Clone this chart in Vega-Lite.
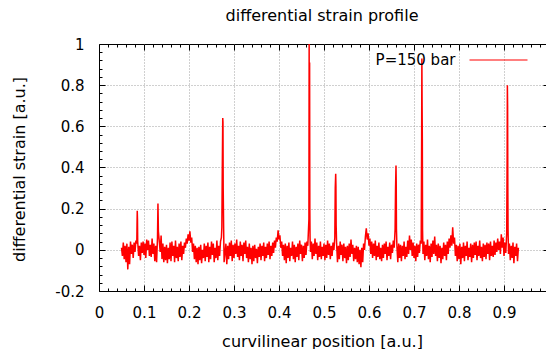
{
 "$schema": "https://vega.github.io/schema/vega-lite/v6.json",
 "autosize": {"type": "none"},
 "padding": {"left": 99, "top": 44, "right": 0, "bottom": 58},
 "width": 450,
 "height": 247,
 "background": "white",
 "title": {"text": "differential strain profile", "font": "DejaVu Sans", "fontSize": 16, "fontWeight": "normal", "color": "#000", "anchor": "middle", "dx": -2, "baseline": "alphabetic", "offset": -7},
 "config": {"view": {"stroke": "black", "strokeWidth": 1}},
 "datasets": {
  "none": [],
  "trace": [
{"x":0.050,"y":0.010},{"x":0.052,"y":-0.030},{"x":0.054,"y":0.035},{"x":0.056,"y":-0.045},{"x":0.058,"y":0.020},{"x":0.060,"y":-0.060},{"x":0.062,"y":0.030},{"x":0.064,"y":-0.095},{"x":0.066,"y":0.015},{"x":0.068,"y":-0.070},{"x":0.070,"y":0.040},{"x":0.072,"y":-0.020},{"x":0.074,"y":0.025},{"x":0.076,"y":-0.040},{"x":0.078,"y":0.035},{"x":0.080,"y":-0.010},{"x":0.082,"y":0.045},{"x":0.084,"y":0.030},{"x":0.0845,"y":0.120},{"x":0.085,"y":0.190},{"x":0.0855,"y":0.150},{"x":0.086,"y":0.040},{"x":0.088,"y":-0.030},{"x":0.090,"y":0.020},{"x":0.092,"y":-0.050},{"x":0.094,"y":0.035},{"x":0.096,"y":-0.015},{"x":0.098,"y":0.040},{"x":0.100,"y":-0.025},{"x":0.102,"y":0.030},{"x":0.104,"y":-0.040},{"x":0.106,"y":0.050},{"x":0.108,"y":0.000},{"x":0.110,"y":0.045},{"x":0.112,"y":-0.030},{"x":0.114,"y":0.025},{"x":0.116,"y":-0.035},{"x":0.118,"y":0.055},{"x":0.120,"y":-0.020},{"x":0.122,"y":0.030},{"x":0.124,"y":-0.055},{"x":0.126,"y":0.020},{"x":0.128,"y":-0.060},{"x":0.130,"y":0.060},{"x":0.131,"y":0.225},{"x":0.1315,"y":0.160},{"x":0.132,"y":0.090},{"x":0.134,"y":0.040},{"x":0.136,"y":-0.010},{"x":0.138,"y":0.070},{"x":0.140,"y":-0.045},{"x":0.142,"y":0.030},{"x":0.144,"y":-0.060},{"x":0.146,"y":0.015},{"x":0.148,"y":-0.050},{"x":0.150,"y":0.025},{"x":0.152,"y":-0.065},{"x":0.154,"y":0.010},{"x":0.156,"y":-0.045},{"x":0.158,"y":0.035},{"x":0.160,"y":-0.055},{"x":0.162,"y":0.040},{"x":0.164,"y":-0.030},{"x":0.166,"y":0.020},{"x":0.168,"y":-0.060},{"x":0.170,"y":0.045},{"x":0.172,"y":-0.040},{"x":0.174,"y":0.015},{"x":0.176,"y":-0.055},{"x":0.178,"y":0.030},{"x":0.180,"y":-0.035},{"x":0.182,"y":0.040},{"x":0.184,"y":-0.050},{"x":0.186,"y":0.020},{"x":0.188,"y":-0.020},{"x":0.190,"y":0.035},{"x":0.192,"y":0.010},{"x":0.194,"y":0.055},{"x":0.196,"y":0.030},{"x":0.198,"y":0.075},{"x":0.200,"y":0.045},{"x":0.202,"y":0.090},{"x":0.204,"y":0.035},{"x":0.206,"y":0.060},{"x":0.208,"y":-0.010},{"x":0.210,"y":0.030},{"x":0.212,"y":-0.045},{"x":0.214,"y":0.020},{"x":0.216,"y":-0.060},{"x":0.218,"y":0.010},{"x":0.220,"y":-0.070},{"x":0.222,"y":0.015},{"x":0.224,"y":-0.050},{"x":0.226,"y":0.025},{"x":0.228,"y":-0.065},{"x":0.230,"y":0.000},{"x":0.232,"y":-0.040},{"x":0.234,"y":0.030},{"x":0.236,"y":-0.055},{"x":0.238,"y":0.020},{"x":0.240,"y":-0.035},{"x":0.242,"y":0.035},{"x":0.244,"y":-0.060},{"x":0.246,"y":0.015},{"x":0.248,"y":-0.045},{"x":0.250,"y":0.040},{"x":0.252,"y":-0.025},{"x":0.254,"y":0.030},{"x":0.256,"y":-0.060},{"x":0.258,"y":0.010},{"x":0.260,"y":-0.040},{"x":0.262,"y":0.045},{"x":0.264,"y":-0.050},{"x":0.266,"y":0.020},{"x":0.268,"y":-0.030},{"x":0.270,"y":0.040},{"x":0.272,"y":0.060},{"x":0.273,"y":0.110},{"x":0.274,"y":0.400},{"x":0.275,"y":0.640},{"x":0.2755,"y":0.620},{"x":0.276,"y":0.300},{"x":0.277,"y":0.100},{"x":0.278,"y":-0.060},{"x":0.280,"y":-0.020},{"x":0.282,"y":0.030},{"x":0.284,"y":-0.070},{"x":0.286,"y":0.020},{"x":0.288,"y":-0.045},{"x":0.290,"y":0.035},{"x":0.292,"y":-0.030},{"x":0.294,"y":0.045},{"x":0.296,"y":-0.055},{"x":0.298,"y":0.025},{"x":0.300,"y":-0.040},{"x":0.302,"y":0.030},{"x":0.304,"y":-0.020},{"x":0.306,"y":0.050},{"x":0.308,"y":-0.035},{"x":0.310,"y":0.020},{"x":0.312,"y":-0.050},{"x":0.314,"y":0.040},{"x":0.316,"y":-0.030},{"x":0.318,"y":0.025},{"x":0.320,"y":-0.055},{"x":0.322,"y":0.035},{"x":0.324,"y":-0.020},{"x":0.326,"y":0.045},{"x":0.328,"y":-0.040},{"x":0.330,"y":0.015},{"x":0.332,"y":-0.060},{"x":0.334,"y":0.030},{"x":0.336,"y":-0.045},{"x":0.338,"y":0.010},{"x":0.340,"y":-0.070},{"x":0.342,"y":0.020},{"x":0.344,"y":-0.055},{"x":0.346,"y":0.025},{"x":0.348,"y":-0.040},{"x":0.350,"y":0.005},{"x":0.352,"y":-0.065},{"x":0.354,"y":0.015},{"x":0.356,"y":-0.035},{"x":0.358,"y":0.030},{"x":0.360,"y":-0.050},{"x":0.362,"y":0.020},{"x":0.364,"y":-0.030},{"x":0.366,"y":0.035},{"x":0.368,"y":-0.055},{"x":0.370,"y":0.015},{"x":0.372,"y":-0.040},{"x":0.374,"y":0.030},{"x":0.376,"y":-0.025},{"x":0.378,"y":0.040},{"x":0.380,"y":-0.045},{"x":0.382,"y":0.020},{"x":0.384,"y":-0.030},{"x":0.386,"y":0.035},{"x":0.388,"y":-0.015},{"x":0.390,"y":0.045},{"x":0.392,"y":0.010},{"x":0.394,"y":0.060},{"x":0.396,"y":0.040},{"x":0.398,"y":0.095},{"x":0.400,"y":0.050},{"x":0.402,"y":0.070},{"x":0.404,"y":0.010},{"x":0.406,"y":0.040},{"x":0.408,"y":-0.030},{"x":0.410,"y":0.025},{"x":0.412,"y":-0.050},{"x":0.414,"y":0.030},{"x":0.416,"y":-0.065},{"x":0.418,"y":0.020},{"x":0.420,"y":-0.040},{"x":0.422,"y":0.035},{"x":0.424,"y":-0.055},{"x":0.426,"y":0.010},{"x":0.428,"y":-0.030},{"x":0.430,"y":0.040},{"x":0.432,"y":-0.045},{"x":0.434,"y":0.025},{"x":0.436,"y":-0.060},{"x":0.438,"y":0.015},{"x":0.440,"y":-0.035},{"x":0.442,"y":0.030},{"x":0.444,"y":-0.050},{"x":0.446,"y":0.045},{"x":0.448,"y":-0.020},{"x":0.450,"y":0.025},{"x":0.452,"y":-0.055},{"x":0.454,"y":0.020},{"x":0.456,"y":-0.040},{"x":0.458,"y":0.035},{"x":0.460,"y":-0.025},{"x":0.462,"y":0.040},{"x":0.464,"y":0.020},{"x":0.4665,"y":0.150},{"x":0.467,"y":1.000},{"x":0.4675,"y":0.300},{"x":0.468,"y":0.910},{"x":0.4685,"y":0.200},{"x":0.469,"y":0.060},{"x":0.470,"y":-0.010},{"x":0.472,"y":0.040},{"x":0.474,"y":-0.045},{"x":0.476,"y":0.030},{"x":0.478,"y":-0.030},{"x":0.480,"y":0.055},{"x":0.482,"y":-0.020},{"x":0.484,"y":0.035},{"x":0.486,"y":-0.050},{"x":0.488,"y":0.020},{"x":0.490,"y":-0.035},{"x":0.492,"y":0.040},{"x":0.494,"y":-0.045},{"x":0.496,"y":0.015},{"x":0.498,"y":-0.030},{"x":0.500,"y":0.030},{"x":0.502,"y":-0.050},{"x":0.504,"y":0.025},{"x":0.506,"y":-0.040},{"x":0.508,"y":0.045},{"x":0.510,"y":-0.025},{"x":0.512,"y":0.030},{"x":0.514,"y":-0.045},{"x":0.516,"y":0.020},{"x":0.518,"y":-0.030},{"x":0.520,"y":0.035},{"x":0.522,"y":0.000},{"x":0.524,"y":0.060},{"x":0.525,"y":0.300},{"x":0.526,"y":0.370},{"x":0.5265,"y":0.310},{"x":0.527,"y":0.120},{"x":0.528,"y":0.030},{"x":0.530,"y":-0.060},{"x":0.532,"y":0.020},{"x":0.534,"y":-0.045},{"x":0.536,"y":0.040},{"x":0.538,"y":-0.025},{"x":0.540,"y":0.025},{"x":0.542,"y":-0.055},{"x":0.544,"y":0.030},{"x":0.546,"y":-0.040},{"x":0.548,"y":0.015},{"x":0.550,"y":-0.065},{"x":0.552,"y":0.020},{"x":0.554,"y":-0.050},{"x":0.556,"y":0.030},{"x":0.558,"y":-0.035},{"x":0.560,"y":0.050},{"x":0.562,"y":-0.020},{"x":0.564,"y":0.025},{"x":0.566,"y":-0.055},{"x":0.568,"y":0.010},{"x":0.570,"y":-0.045},{"x":0.572,"y":0.020},{"x":0.574,"y":-0.060},{"x":0.576,"y":0.015},{"x":0.578,"y":-0.070},{"x":0.580,"y":0.000},{"x":0.582,"y":-0.085},{"x":0.584,"y":0.010},{"x":0.586,"y":-0.060},{"x":0.588,"y":0.030},{"x":0.590,"y":0.000},{"x":0.592,"y":0.065},{"x":0.594,"y":0.105},{"x":0.596,"y":0.050},{"x":0.598,"y":0.080},{"x":0.600,"y":0.020},{"x":0.602,"y":0.055},{"x":0.604,"y":-0.020},{"x":0.606,"y":0.040},{"x":0.608,"y":-0.040},{"x":0.610,"y":0.030},{"x":0.612,"y":-0.030},{"x":0.614,"y":0.045},{"x":0.616,"y":-0.050},{"x":0.618,"y":0.020},{"x":0.620,"y":-0.035},{"x":0.622,"y":0.035},{"x":0.624,"y":-0.045},{"x":0.626,"y":0.010},{"x":0.628,"y":-0.055},{"x":0.630,"y":0.025},{"x":0.632,"y":-0.040},{"x":0.634,"y":0.030},{"x":0.636,"y":-0.020},{"x":0.638,"y":0.040},{"x":0.640,"y":-0.050},{"x":0.642,"y":0.015},{"x":0.644,"y":-0.030},{"x":0.646,"y":0.035},{"x":0.648,"y":-0.045},{"x":0.650,"y":0.025},{"x":0.652,"y":-0.015},{"x":0.654,"y":0.045},{"x":0.656,"y":0.010},{"x":0.658,"y":0.100},{"x":0.659,"y":0.300},{"x":0.660,"y":0.410},{"x":0.6605,"y":0.330},{"x":0.661,"y":0.100},{"x":0.662,"y":0.020},{"x":0.664,"y":-0.060},{"x":0.666,"y":0.030},{"x":0.668,"y":-0.040},{"x":0.670,"y":0.025},{"x":0.672,"y":-0.055},{"x":0.674,"y":0.020},{"x":0.676,"y":-0.030},{"x":0.678,"y":0.040},{"x":0.680,"y":-0.045},{"x":0.682,"y":0.015},{"x":0.684,"y":-0.035},{"x":0.686,"y":0.045},{"x":0.688,"y":-0.020},{"x":0.690,"y":0.070},{"x":0.692,"y":0.000},{"x":0.694,"y":0.050},{"x":0.696,"y":-0.030},{"x":0.698,"y":0.035},{"x":0.700,"y":-0.040},{"x":0.702,"y":0.020},{"x":0.704,"y":-0.055},{"x":0.706,"y":0.030},{"x":0.708,"y":-0.035},{"x":0.710,"y":0.025},{"x":0.712,"y":-0.015},{"x":0.714,"y":0.045},{"x":0.716,"y":0.030},{"x":0.717,"y":0.550},{"x":0.7175,"y":0.930},{"x":0.718,"y":0.700},{"x":0.7185,"y":0.540},{"x":0.719,"y":0.100},{"x":0.720,"y":-0.020},{"x":0.722,"y":0.040},{"x":0.724,"y":-0.050},{"x":0.726,"y":0.025},{"x":0.728,"y":-0.030},{"x":0.730,"y":0.050},{"x":0.732,"y":-0.045},{"x":0.734,"y":0.020},{"x":0.736,"y":-0.060},{"x":0.738,"y":0.030},{"x":0.740,"y":-0.035},{"x":0.742,"y":0.045},{"x":0.744,"y":-0.020},{"x":0.746,"y":0.065},{"x":0.748,"y":-0.030},{"x":0.750,"y":0.025},{"x":0.752,"y":-0.055},{"x":0.754,"y":0.030},{"x":0.756,"y":-0.040},{"x":0.758,"y":0.020},{"x":0.760,"y":-0.065},{"x":0.762,"y":0.010},{"x":0.764,"y":-0.045},{"x":0.766,"y":0.035},{"x":0.768,"y":-0.030},{"x":0.770,"y":0.025},{"x":0.772,"y":-0.050},{"x":0.774,"y":0.040},{"x":0.776,"y":-0.020},{"x":0.778,"y":0.055},{"x":0.780,"y":0.010},{"x":0.782,"y":0.070},{"x":0.784,"y":0.020},{"x":0.786,"y":0.110},{"x":0.788,"y":0.030},{"x":0.790,"y":0.060},{"x":0.792,"y":-0.030},{"x":0.794,"y":0.025},{"x":0.796,"y":-0.055},{"x":0.798,"y":0.020},{"x":0.800,"y":-0.045},{"x":0.802,"y":0.030},{"x":0.804,"y":-0.070},{"x":0.806,"y":0.015},{"x":0.808,"y":-0.040},{"x":0.810,"y":0.035},{"x":0.812,"y":-0.055},{"x":0.814,"y":0.020},{"x":0.816,"y":-0.030},{"x":0.818,"y":0.040},{"x":0.820,"y":-0.050},{"x":0.822,"y":0.010},{"x":0.824,"y":-0.035},{"x":0.826,"y":0.030},{"x":0.828,"y":-0.060},{"x":0.830,"y":0.025},{"x":0.832,"y":-0.040},{"x":0.834,"y":0.035},{"x":0.836,"y":-0.025},{"x":0.838,"y":0.040},{"x":0.840,"y":-0.050},{"x":0.842,"y":0.020},{"x":0.844,"y":-0.030},{"x":0.846,"y":0.045},{"x":0.848,"y":-0.040},{"x":0.850,"y":0.015},{"x":0.852,"y":-0.055},{"x":0.854,"y":0.030},{"x":0.856,"y":-0.035},{"x":0.858,"y":0.025},{"x":0.860,"y":-0.045},{"x":0.862,"y":0.035},{"x":0.864,"y":-0.020},{"x":0.866,"y":0.030},{"x":0.868,"y":-0.050},{"x":0.870,"y":0.040},{"x":0.872,"y":-0.030},{"x":0.874,"y":0.020},{"x":0.876,"y":-0.035},{"x":0.878,"y":0.045},{"x":0.880,"y":-0.025},{"x":0.882,"y":0.035},{"x":0.884,"y":-0.010},{"x":0.886,"y":0.055},{"x":0.888,"y":0.000},{"x":0.890,"y":0.040},{"x":0.892,"y":-0.020},{"x":0.894,"y":0.075},{"x":0.896,"y":0.010},{"x":0.898,"y":0.060},{"x":0.900,"y":-0.030},{"x":0.902,"y":0.035},{"x":0.904,"y":-0.015},{"x":0.906,"y":0.080},{"x":0.907,"y":0.460},{"x":0.9075,"y":0.800},{"x":0.908,"y":0.700},{"x":0.9085,"y":0.300},{"x":0.909,"y":0.100},{"x":0.910,"y":-0.020},{"x":0.912,"y":0.030},{"x":0.914,"y":-0.050},{"x":0.916,"y":0.020},{"x":0.918,"y":-0.040},{"x":0.920,"y":0.035},{"x":0.922,"y":-0.065},{"x":0.924,"y":0.015},{"x":0.926,"y":-0.030},{"x":0.928,"y":0.030},{"x":0.930,"y":-0.055},{"x":0.932,"y":0.010}
  ]
 },
 "resolve": {"axis": {"x": "independent", "y": "independent"}},
 "layer": [
  {
   "data": {"name": "none"},
   "mark": {"type": "point", "opacity": 0},
   "encoding": {
    "x": {"field": "x", "type": "quantitative", "scale": {"domain": [0, 1], "nice": false, "zero": false},
          "axis": {"orient": "top", "values": [0.1,0.2,0.3,0.4,0.5,0.6,0.7,0.8,0.9], "grid": true, "gridColor": "#a0a0a0", "gridDash": [1, 2], "gridWidth": 1, "domain": false, "labels": false, "tickSize": -6, "tickColor": "#000", "tickWidth": 1, "title": null}},
    "y": {"field": "y", "type": "quantitative", "scale": {"domain": [-0.2, 1], "nice": false, "zero": false},
          "axis": {"orient": "right", "values": [0,0.2,0.4,0.6,0.8], "grid": true, "gridColor": "#a0a0a0", "gridDash": [1, 2], "gridWidth": 1, "domain": false, "labels": false, "tickSize": -6, "tickColor": "#000", "tickWidth": 1, "title": null}}
   }
  },
  {
   "data": {"name": "none"},
   "mark": {"type": "point", "opacity": 0},
   "encoding": {
    "x": {"field": "x", "type": "quantitative",
          "axis": {"orient": "bottom", "values": [0.02,0.04,0.06,0.08,0.12,0.14,0.16,0.18,0.22,0.24,0.26,0.28,0.32,0.34,0.36,0.38,0.42,0.44,0.46,0.48,0.52,0.54,0.56,0.58,0.62,0.64,0.66,0.68,0.72,0.74,0.76,0.78,0.82,0.84,0.86,0.88,0.92,0.94,0.96,0.98], "grid": false, "domain": false, "labels": false, "tickSize": -3, "tickColor": "#000", "tickWidth": 1, "title": null}},
    "y": {"field": "y", "type": "quantitative",
          "axis": {"orient": "left", "values": [-0.16,-0.12,-0.08,-0.04,0.04,0.08,0.12,0.16,0.24,0.28,0.32,0.36,0.44,0.48,0.52,0.56,0.64,0.68,0.72,0.76,0.84,0.88,0.92,0.96], "grid": false, "domain": false, "labels": false, "tickSize": -3, "tickColor": "#000", "tickWidth": 1, "title": null}}
   }
  },
  {
   "data": {"name": "none"},
   "mark": {"type": "point", "opacity": 0},
   "encoding": {
    "x": {"field": "x", "type": "quantitative",
          "axis": {"orient": "top", "values": [0.02,0.04,0.06,0.08,0.12,0.14,0.16,0.18,0.22,0.24,0.26,0.28,0.32,0.34,0.36,0.38,0.42,0.44,0.46,0.48,0.52,0.54,0.56,0.58,0.62,0.64,0.66,0.68,0.72,0.74,0.76,0.78,0.82,0.84,0.86,0.88,0.92,0.94,0.96,0.98], "grid": false, "domain": false, "labels": false, "tickSize": -3, "tickColor": "#000", "tickWidth": 1, "title": null}},
    "y": {"field": "y", "type": "quantitative",
          "axis": {"orient": "right", "values": [-0.16,-0.12,-0.08,-0.04,0.04,0.08,0.12,0.16,0.24,0.28,0.32,0.36,0.44,0.48,0.52,0.56,0.64,0.68,0.72,0.76,0.84,0.88,0.92,0.96], "grid": false, "domain": false, "labels": false, "tickSize": -3, "tickColor": "#000", "tickWidth": 1, "title": null}}
   }
  },
  {
   "data": {"name": "trace"},
   "mark": {"type": "line", "strokeWidth": 1.5, "clip": true},
   "encoding": {
    "x": {"field": "x", "type": "quantitative",
          "axis": {"orient": "bottom", "values": [0,0.1,0.2,0.3,0.4,0.5,0.6,0.7,0.8,0.9], "format": ".1~f", "grid": false, "domain": false, "tickSize": -6, "tickColor": "#000", "tickWidth": 1, "labelFlush": false, "labelOverlap": false, "labelPadding": 20, "labelFont": "DejaVu Sans", "labelFontSize": 15, "labelColor": "#000", "title": "curvilinear position [a.u.]", "titleFont": "DejaVu Sans", "titleFontSize": 16, "titleFontWeight": "normal", "titleColor": "#000", "titleX": 223, "titleY": 50, "titleBaseline": "middle"}},
    "y": {"field": "y", "type": "quantitative",
          "axis": {"orient": "left", "values": [-0.2,0,0.2,0.4,0.6,0.8,1], "format": ".1~f", "labelExpr": "replace(datum.label, '\u2212', '-')", "grid": false, "domain": false, "tickSize": -6, "tickColor": "#000", "tickWidth": 1, "labelFlush": false, "labelOverlap": false, "labelPadding": 21, "labelFont": "DejaVu Sans", "labelFontSize": 15, "labelColor": "#000", "title": "differential strain [a.u.]", "titleFont": "DejaVu Sans", "titleFontSize": 16, "titleFontWeight": "normal", "titleColor": "#000", "titleX": -80, "titleY": 125, "titleBaseline": "middle"}},
    "color": {"datum": "P=150 bar", "type": "nominal", "scale": {"range": ["#ff0000"]},
              "legend": {"orient": "none", "legendX": 369.5, "legendY": -14, "title": null, "symbolType": "M-1,0L1,0", "symbolSize": 3364, "symbolStrokeWidth": 1.2, "symbolStrokeColor": "#ff0000", "symbolFillColor": "#ff0000", "symbolOpacity": 1, "labelAlign": "right", "labelOffset": -73, "labelFont": "DejaVu Sans", "labelFontSize": 15, "labelColor": "#000", "padding": 0}}
   }
  }
 ]
}
